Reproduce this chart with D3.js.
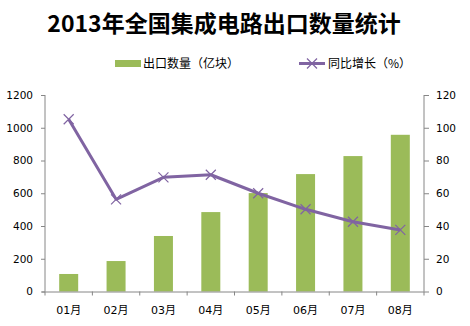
<!DOCTYPE html>
<html><head><meta charset="utf-8">
<script src="https://cdn.jsdelivr.net/npm/d3@7/dist/d3.min.js"></script>
<style>body{margin:0;background:#fff}svg{display:block}</style>
</head><body>
<svg id="c" width="470" height="326"></svg>
<script>
const categories = ["01月","02月","03月","04月","05月","06月","07月","08月"];
const exportQty = [107, 186, 339, 485, 601, 717, 827, 957];
const yoyGrowth = [105.2, 56.3, 69.7, 71.3, 60.0, 50.2, 42.6, 37.6];
const leftTicks = [0, 200, 400, 600, 800, 1000, 1200];
const rightTicks = [0, 20, 40, 60, 80, 100, 120];
const seriesNames = ["出口数量（亿块）", "同比增长（%）"];
const title = "2013年全国集成电路出口数量统计";

const svg = d3.select("#c");
const L = 45, R = 424, T = 95, B = 291.5;
const font = "'Noto Sans CJK SC', 'DejaVu Sans', sans-serif";
const numFont = "'DejaVu Sans', 'Noto Sans CJK SC', sans-serif";
const axisColor = "#868686";
const green = "#9BBB59", purple = "#8064A2";

const x = d3.scaleBand().domain(categories).range([L, R]).paddingInner(0).paddingOuter(0);
const yL = d3.scaleLinear().domain([0, 1200]).range([B, T]);
const yR = d3.scaleLinear().domain([0, 120]).range([B, T]);

// title
svg.append("text").attr("x", 224).attr("y", 32).attr("text-anchor", "middle")
  .attr("font-family", font).attr("font-weight", "bold").attr("font-size", 23)
  .attr("fill", "#000").text(title);

// bars
const bw = 19;
svg.append("g").selectAll("rect").data(exportQty).join("rect")
  .attr("x", (d, i) => x(categories[i]) + x.bandwidth() / 2 - bw / 2)
  .attr("width", bw)
  .attr("y", d => yL(d))
  .attr("height", d => B - yL(d))
  .attr("fill", green);

// axes
const gL = svg.append("g").attr("transform", `translate(${L},0)`)
  .call(d3.axisLeft(yL).tickValues(leftTicks).tickSize(4).tickPadding(8).tickFormat(d3.format("d")));
const gR = svg.append("g").attr("transform", `translate(${R},0)`)
  .call(d3.axisRight(yR).tickValues(rightTicks).tickSize(5).tickPadding(7).tickFormat(d3.format("d")));
const gX = svg.append("g").attr("transform", `translate(0,${B})`)
  .call(d3.axisBottom(x).tickSize(4).tickPadding(11));
gX.selectAll(".tick line").attr("x1", -x.bandwidth()/2).attr("x2", -x.bandwidth()/2);
gX.append("line").attr("x1", R).attr("x2", R).attr("y1", 0).attr("y2", 4).attr("stroke", axisColor);
gX.select(".domain").attr("d", `M${L-3},0.5H${R}`);

[gL, gR, gX].forEach(g => {
  g.select(".domain").attr("stroke", axisColor);
  g.selectAll(".tick line").attr("stroke", axisColor);
  g.selectAll("text").attr("font-family", numFont).attr("font-size", 10.5).attr("fill", "#000");
});
gL.select(".domain").attr("d", `M0,${T}V${B}`);
gR.select(".domain").attr("d", `M0,${T}V${B}`);
gX.selectAll("text").attr("font-size", 11);

// line
const line = d3.line()
  .x((d, i) => x(categories[i]) + x.bandwidth() / 2)
  .y(d => yR(d));
svg.append("path").datum(yoyGrowth).attr("d", line)
  .attr("fill", "none").attr("stroke", purple).attr("stroke-width", 3)
  .attr("stroke-linejoin", "round");
const ms = 5;
const marks = svg.append("g").selectAll("g").data(yoyGrowth).join("g")
  .attr("transform", (d, i) => `translate(${x(categories[i]) + x.bandwidth() / 2},${yR(d)})`);
marks.append("path").attr("d", `M${-ms},${-ms}L${ms},${ms}M${-ms},${ms}L${ms},${-ms}`)
  .attr("stroke", purple).attr("stroke-width", 1.2).attr("fill", "none");

// legend
const lg = svg.append("g");
lg.append("rect").attr("x", 115).attr("y", 60).attr("width", 26).attr("height", 7).attr("fill", green);
lg.append("text").attr("x", 143).attr("y", 68).attr("font-family", font).attr("font-size", 12)
  .attr("fill", "#000").text(seriesNames[0]);
lg.append("line").attr("x1", 299).attr("x2", 325).attr("y1", 63.5).attr("y2", 63.5)
  .attr("stroke", purple).attr("stroke-width", 3);
lg.append("path").attr("d", `M${312-ms},${63.5-ms}L${312+ms},${63.5+ms}M${312-ms},${63.5+ms}L${312+ms},${63.5-ms}`)
  .attr("stroke", purple).attr("stroke-width", 1.2);
lg.append("text").attr("x", 328).attr("y", 68).attr("font-family", font).attr("font-size", 12)
  .attr("fill", "#000").text(seriesNames[1]);
</script>
</body></html>
